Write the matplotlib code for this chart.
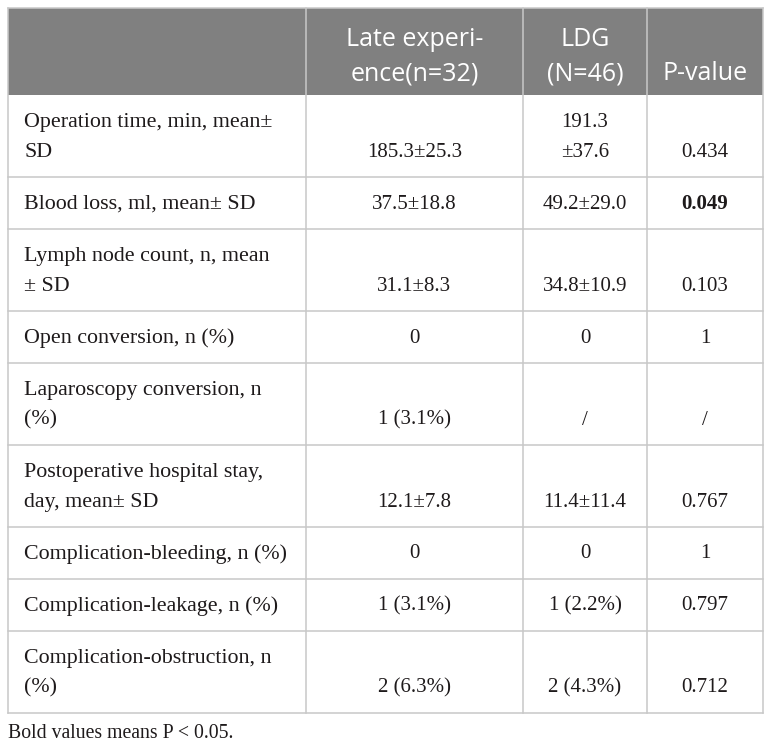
import matplotlib
matplotlib.use("Agg")
import matplotlib.pyplot as plt
from matplotlib.patches import Rectangle

# table content
header = [[""], ["Late experi-", "ence(n=32)"], ["LDG", "(N=46)"], ["P-value"]]

labels = [
    ["Operation time, min, mean\u00b1", "SD"],
    ["Blood loss, ml, mean\u00b1 SD"],
    ["Lymph node count, n, mean", "\u00b1 SD"],
    ["Open conversion, n (%)"],
    ["Laparoscopy conversion, n", "(%)"],
    ["Postoperative hospital stay,", "day, mean\u00b1 SD"],
    ["Complication-bleeding, n (%)"],
    ["Complication-leakage, n (%)"],
    ["Complication-obstruction, n", "(%)"],
]
late = [["185.3\u00b125.3"], ["37.5\u00b118.8"], ["31.1\u00b18.3"], ["0"], ["1 (3.1%)"],
        ["12.1\u00b17.8"], ["0"], ["1 (3.1%)"], ["2 (6.3%)"]]
ldg = [["191.3", "\u00b137.6"], ["49.2\u00b129.0"], ["34.8\u00b110.9"], ["0"], ["/"],
       ["11.4\u00b111.4"], ["0"], ["1 (2.2%)"], ["2 (4.3%)"]]
pval = [["0.434"], ["0.049"], ["0.103"], ["1"], ["/"], ["0.767"], ["1"], ["0.797"], ["0.712"]]
bold = [False, True, False, False, False, False, False, False, False]
footnote = "Bold values means P < 0.05."

W, H = 772, 748
fig = plt.figure(figsize=(W / 100, H / 100), dpi=100)
ax = fig.add_axes([0, 0, 1, 1])
ax.set_xlim(0, W)
ax.set_ylim(H, 0)
ax.axis("off")

col_x = [8, 306, 523, 647, 763]
top = 8
head_h = 87
line_gap = 30
one_h = 52
grid_c = "#c8c8c8"
txt_c = "#1e1a1b"
serif = "Liberation Serif"
sans = "Open Sans"
fs_lab = 15.8
fs_val = 15.0
hfs = 18.0

# header
ax.add_patch(Rectangle((col_x[0], top), col_x[-1] - col_x[0], head_h,
                       facecolor="#808080", edgecolor="none", zorder=1))
hc = top + head_h / 2 + 5
for j, lines in enumerate(header):
    if not lines[0]:
        continue
    cx = (col_x[j] + col_x[j + 1]) / 2
    if len(lines) == 1:
        ys = [hc + 17]
    else:
        ys = [hc - 17, hc + 17]
    for t, y in zip(lines, ys):
        ax.text(cx, y, t, ha="center", va="center", color="white",
                fontsize=hfs, family=sans, zorder=3)

# body rows
y0 = top + head_h
row_edges = [y0]
for i in range(len(labels)):
    n = max(len(labels[i]), len(ldg[i]))
    h = one_h + (n - 1) * line_gap
    c = y0 + h / 2 + 1
    # first column: lines centred in the row
    for k, t in enumerate(labels[i]):
        y = c + (k - (len(labels[i]) - 1) / 2) * line_gap
        ax.text(24, y, t, ha="left", va="center", color=txt_c,
                fontsize=fs_lab, family=serif, zorder=3)
    for j, cell in enumerate([late[i], ldg[i], pval[i]]):
        cx = (col_x[j + 1] + col_x[j + 2]) / 2
        for k, t in enumerate(cell):
            # values sit on the last line of the row
            y = c + (n - 1) / 2 * line_gap - (len(cell) - 1 - k) * line_gap
            w = "bold" if (j == 2 and bold[i]) else "normal"
            ax.text(cx, y, t, ha="center", va="center", color=txt_c,
                    fontsize=fs_val, family=serif, fontweight=w, zorder=3)
    y0 += h
    row_edges.append(y0)

# grid lines
for y in row_edges[1:]:
    ax.plot([col_x[0], col_x[-1]], [y, y], color=grid_c, lw=1.1, zorder=2)
for x in col_x:
    ax.plot([x, x], [top, row_edges[-1]], color=grid_c, lw=1.1, zorder=2)
ax.plot([col_x[0], col_x[-1]], [top, top], color=grid_c, lw=1.1, zorder=2)

ax.text(8, row_edges[-1] + 20, footnote, ha="left", va="center", color=txt_c,
        fontsize=14.2, family=serif)

fig.savefig("out.png", dpi=100)
